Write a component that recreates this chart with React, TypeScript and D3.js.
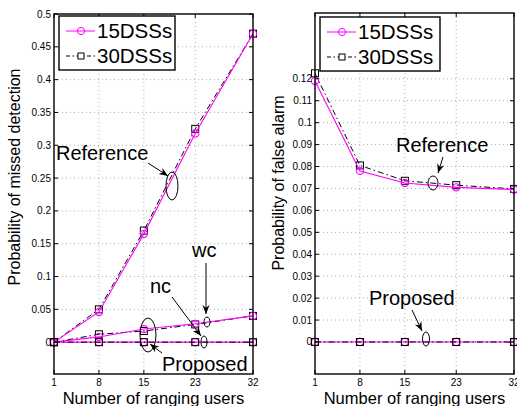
import { useEffect, useRef } from "react";
import * as d3 from "d3";

// x values (number of ranging users)
const users = [1, 8, 15, 23, 32];
const xTicks = [1, 8, 15, 23, 32];

// missed detection
const mdRef15 = [0, 0.046, 0.165, 0.318, 0.47];
const mdRef30 = [0, 0.05, 0.17, 0.325, 0.47];
const mdWc15 = [0, 0.008, 0.02, 0.028, 0.04];
const mdWc30 = [0, 0.012, 0.017, 0.027, 0.04];
const mdNc15 = [0, 0, 0, 0, 0];
const mdNc30 = [0, 0, 0, 0, 0];
const mdTicks = [0, 0.05, 0.1, 0.15, 0.2, 0.25, 0.3, 0.35, 0.4, 0.45, 0.5];

// false alarm
const faRef15 = [0.119, 0.078, 0.0725, 0.0705, 0.0695];
const faRef30 = [0.1225, 0.0805, 0.0735, 0.0715, 0.0698];
const faProp15 = [0, 0, 0, 0, 0];
const faProp30 = [0, 0, 0, 0, 0];
const faTicks = [0, 0.01, 0.02, 0.03, 0.04, 0.05, 0.06, 0.07, 0.08, 0.09, 0.1, 0.11, 0.12];

const legendNames = ["15DSSs", "30DSSs"];

const PINK = "#ff00ff";
const FONT = "'Liberation Sans', Arial, sans-serif";

function drawPanel(svg, opt) {
    const g = svg.append("g");
    const x = d3.scaleLinear().domain([1, 32]).range([opt.left, opt.right]);
    const y = d3.scaleLinear().domain(opt.yDomain).range([opt.bottom, opt.top]);

    // grid
    xTicks.slice(1, -1).forEach((t) => {
        g.append("line")
            .attr("x1", x(t)).attr("x2", x(t))
            .attr("y1", opt.top).attr("y2", opt.bottom)
            .attr("stroke", "#999").attr("stroke-width", 0.8)
            .attr("stroke-dasharray", "1,3");
    });
    opt.yTicks.forEach((t) => {
        g.append("line")
            .attr("x1", opt.left).attr("x2", opt.right)
            .attr("y1", y(t)).attr("y2", y(t))
            .attr("stroke", "#999").attr("stroke-width", 0.8)
            .attr("stroke-dasharray", "1,3");
    });

    // series
    const line = d3.line().x((d) => x(d[0])).y((d) => y(d[1]));
    opt.series.forEach((s) => {
        const pts = users.map((u, i) => [u, s.values[i]]);
        const is15 = s.kind === 0;
        g.append("path")
            .attr("d", line(pts))
            .attr("fill", "none")
            .attr("stroke", is15 ? PINK : "#000")
            .attr("stroke-width", is15 ? 1.1 : 1)
            .attr("stroke-dasharray", is15 ? null : "6,3,1.5,3");
        pts.forEach((p) => {
            if (is15) {
                g.append("circle")
                    .attr("cx", x(p[0])).attr("cy", y(p[1])).attr("r", 3.6)
                    .attr("fill", "none").attr("stroke", PINK).attr("stroke-width", 1.1);
            } else {
                g.append("rect")
                    .attr("x", x(p[0]) - 3.5).attr("y", y(p[1]) - 3.5)
                    .attr("width", 7).attr("height", 7)
                    .attr("fill", "none").attr("stroke", "#000").attr("stroke-width", 1);
            }
        });
    });

    // box
    g.append("rect")
        .attr("x", opt.left).attr("y", opt.top)
        .attr("width", opt.right - opt.left).attr("height", opt.bottom - opt.top)
        .attr("fill", "none").attr("stroke", "#000").attr("stroke-width", 1.4);

    // ticks inside
    xTicks.forEach((t) => {
        g.append("line").attr("x1", x(t)).attr("x2", x(t))
            .attr("y1", opt.bottom).attr("y2", opt.bottom - 4).attr("stroke", "#000");
        g.append("line").attr("x1", x(t)).attr("x2", x(t))
            .attr("y1", opt.top).attr("y2", opt.top + 4).attr("stroke", "#000");
        g.append("text")
            .attr("x", x(t)).attr("y", opt.bottom + 12)
            .attr("text-anchor", "middle").attr("font-size", 10)
            .text(t);
    });
    opt.yTicks.forEach((t) => {
        g.append("line").attr("x1", opt.left).attr("x2", opt.left + 4)
            .attr("y1", y(t)).attr("y2", y(t)).attr("stroke", "#000");
        g.append("line").attr("x1", opt.right).attr("x2", opt.right - 4)
            .attr("y1", y(t)).attr("y2", y(t)).attr("stroke", "#000");
        g.append("text")
            .attr("x", opt.left - 3).attr("y", y(t) + 3.5)
            .attr("text-anchor", "end").attr("font-size", 10)
            .text(t === 0 ? "0" : String(t));
    });

    // axis labels
    g.append("text")
        .attr("x", (opt.left + opt.right) / 2).attr("y", 404)
        .attr("text-anchor", "middle").attr("font-size", 16.5)
        .text("Number of ranging users");
    g.append("text")
        .attr("transform", `translate(${opt.yLabelX},${opt.yLabelY}) rotate(-90)`)
        .attr("text-anchor", "middle").attr("font-size", 16)
        .text(opt.yLabel);

    // legend
    const lg = g.append("g").attr("transform", `translate(${opt.legend[0]},${opt.legend[1]})`);
    lg.append("rect").attr("width", opt.legend[2]).attr("height", 54)
        .attr("fill", "#fff").attr("stroke", "#000").attr("stroke-width", 1.4);
    legendNames.forEach((name, i) => {
        const ly = 15 + i * 25;
        lg.append("line").attr("x1", 7).attr("x2", 36).attr("y1", ly).attr("y2", ly)
            .attr("stroke", i === 0 ? PINK : "#000")
            .attr("stroke-dasharray", i === 0 ? null : "4,2.5,1.5,2.5");
        if (i === 0) {
            lg.append("circle").attr("cx", 22).attr("cy", ly).attr("r", 3.6)
                .attr("fill", "none").attr("stroke", PINK);
        } else {
            lg.append("rect").attr("x", 19).attr("y", ly - 3).attr("width", 6).attr("height", 6)
                .attr("fill", "#fff").attr("stroke", "#000");
        }
        lg.append("text").attr("x", 38).attr("y", ly + 7)
            .attr("font-size", 20.5).text(name);
    });

    return { g, x, y };
}

function ellipse(g, cx, cy, rx, ry) {
    g.append("ellipse").attr("cx", cx).attr("cy", cy).attr("rx", rx).attr("ry", ry)
        .attr("fill", "none").attr("stroke", "#000").attr("stroke-width", 1);
}

function arrow(g, x1, y1, x2, y2) {
    g.append("line").attr("x1", x1).attr("y1", y1).attr("x2", x2).attr("y2", y2)
        .attr("stroke", "#000").attr("stroke-width", 1).attr("marker-end", "url(#arr)");
}

function label(g, x, y, t) {
    g.append("text").attr("x", x).attr("y", y).attr("font-size", 20).text(t);
}

export default function App() {
    const svgRef = useRef(null);

    useEffect(() => {
        const svg = d3.select(svgRef.current);
        svg.selectAll("*").remove();
        svg.style("font-family", FONT);

        svg.append("defs").append("marker")
            .attr("id", "arr").attr("viewBox", "0 0 10 10")
            .attr("refX", 10).attr("refY", 5)
            .attr("markerWidth", 9).attr("markerHeight", 9)
            .attr("orient", "auto")
            .append("path").attr("d", "M0,1 L10,5 L0,9 L3,5 Z").attr("fill", "#000");

        const left = drawPanel(svg, {
            left: 54, right: 253, top: 14, bottom: 374,
            yDomain: [-0.0485, 0.5], yTicks: mdTicks,
            yLabel: "Probability of missed detection", yLabelX: 20, yLabelY: 177,
            legend: [59, 16, 116],
            series: [
                { kind: 1, values: mdRef30 }, { kind: 0, values: mdRef15 },
                { kind: 1, values: mdWc30 }, { kind: 0, values: mdWc15 },
                { kind: 0, values: mdNc15 }, { kind: 1, values: mdNc30 },
            ],
        });
        const lg = left.g;
        label(lg, 56, 160, "Reference");
        arrow(lg, 148, 163, 168, 176);
        ellipse(lg, 172, 186, 6, 14);
        label(lg, 192, 257, "wc");
        arrow(lg, 206, 263, 206, 314);
        ellipse(lg, 207, 322, 3, 5);
        label(lg, 150, 293, "nc");
        arrow(lg, 172, 297, 201, 336);
        ellipse(lg, 204, 342, 3, 6);
        ellipse(lg, 148, 335, 8, 17);
        label(lg, 162, 371, "Proposed");
        arrow(lg, 162, 353, 150, 344);

        const right = drawPanel(svg, {
            left: 315, right: 514, top: 13, bottom: 374,
            yDomain: [-0.0146, 0.15], yTicks: faTicks,
            yLabel: "Probability of false alarm", yLabelX: 284, yLabelY: 183,
            legend: [320, 17, 120],
            series: [
                { kind: 1, values: faRef30 }, { kind: 0, values: faRef15 },
                { kind: 0, values: faProp15 }, { kind: 1, values: faProp30 },
            ],
        });
        const rg = right.g;
        label(rg, 396, 152, "Reference");
        arrow(rg, 443, 157, 438, 173);
        ellipse(rg, 433, 183, 5, 7);
        label(rg, 369, 305, "Proposed");
        arrow(rg, 412, 310, 422, 331);
        ellipse(rg, 426, 339, 3.5, 7);
    }, []);

    return (
        <div style={{ position: "absolute", left: 0, top: 0 }}>
            <svg ref={svgRef} width={517} height={406} style={{ display: "block", background: "#fff" }}></svg>
        </div>
    );
}
